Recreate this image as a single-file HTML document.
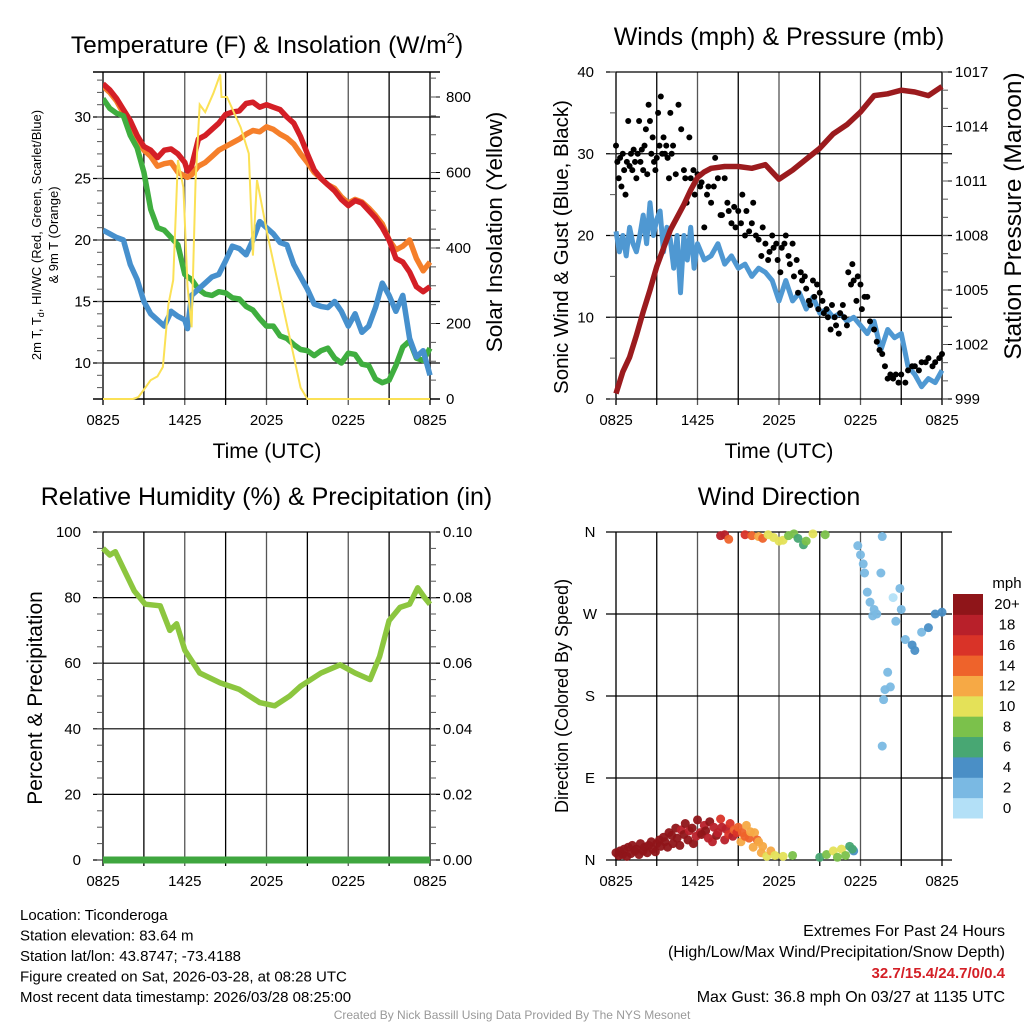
<!DOCTYPE html>
<html><head><meta charset="utf-8">
<style>
html,body{margin:0;padding:0;background:#fff;}
body{width:1024px;height:1024px;overflow:hidden;font-family:"Liberation Sans",sans-serif;}
svg text{font-family:"Liberation Sans",sans-serif;}
</style></head>
<body>
<svg id="chart" width="1024" height="1024" viewBox="0 0 1024 1024" xmlns="http://www.w3.org/2000/svg">
</svg>
<script>
// ---------- data ----------
const tickLabels = ["0825","1425","2025","0225","0825"];
const tempHours = [0,0.5,1,1.5,2,2.5,3,3.5,4,4.5,5,5.5,6,6.2,6.5,7,7.5,8,8.5,9,9.5,10,10.5,11,11.5,12,12.5,13,13.5,14,14.5,15,15.5,16,16.5,17,17.5,18,18.5,19,19.5,20,20.5,21,21.5,22,22.5,23,23.5,24];
const tempRed = [32.7,32.2,31.5,30.6,29.7,28.5,27.6,27.3,26.7,27.3,27.4,27,26.3,25.6,26,28.2,28.5,29,29.5,30.2,30.4,30.5,31.1,31.2,30.8,31,30.8,30.6,30,29.5,28.4,27,25.7,25,24.5,24,23.3,22.8,23.2,23,22.4,21.8,21,20,18.5,18.2,17.4,16.2,15.8,16.2];
const temp9mOrange = [32.5,32,31.3,30.3,29.4,28.2,27.3,26.8,26,26.2,26.3,25.5,25.2,25.1,25.3,26,26.3,26.8,27.3,27.6,27.9,28.2,28.6,28.9,28.8,29.2,29,28.6,28.3,27.8,27,26.3,25.5,25,24.5,24.2,23.5,23,23.3,23.1,22.6,22,21.3,20,19.2,19.5,20,18.5,17.5,18.2];
const dewGreen = [31.5,30.7,30.3,30.1,28.5,27.5,25.5,22.5,21,20.8,20.2,19.6,17.2,17,16.8,16,15.6,15.5,15.8,15.7,15.3,15.2,14.6,14.3,13.6,13,13,12.2,12,11.5,11.1,11,10.6,11,11.2,10.4,10,10.8,10.7,9.9,9.8,8.7,8.4,8.6,9.8,11.3,11.8,10.4,10.2,11.2];
const chillBlue = [20.8,20.5,20.2,20,18,16.8,15,14,13.5,13,14.2,13.8,13.5,12.8,15.5,16,16.5,17,17.2,18.3,19.5,19.3,18.8,20,21.5,21,20.5,19.8,19.6,18,17,16,14.8,14.6,14.5,15,14.2,13,14,12.5,13,14.5,16.5,15.5,14.2,15.5,12,10.5,11,9];
const solarHours = [0,2.2,2.6,3,3.5,4,4.4,4.8,5.15,5.5,5.9,6.2,6.5,6.8,7.1,7.5,8.1,8.6,8.7,9.1,9.6,10.1,10.7,11,11.3,12.1,13.3,14.5,15,24];
const solarValues = [0,0,5,25,50,60,85,250,315,633,560,300,190,580,780,760,810,860,800,800,760,720,650,380,580,430,230,30,0,0];
const windHours = [0,0.25,0.5,0.75,1,1.25,1.5,1.75,2,2.25,2.5,2.75,3,3.25,3.5,3.75,4,4.25,4.5,4.75,5,5.25,5.5,5.75,6,6.5,7,7.5,8,8.5,9,9.5,10,10.5,11,11.5,12,12.5,13,13.5,14,14.5,15,15.5,16,16.5,17,17.5,18,18.5,19,19.5,20,20.5,21,21.5,22,22.5,23,23.5,24];
const windSonic = [20.5,18,20,17.5,21,19,18,20,22.5,19,24,20,22,23,18,21,19.5,16,20,13,20,17,21,16,19,17,17.5,19,16.5,17.5,16,16.5,15,16,15.5,14.5,12,14.5,12,13,11,12.5,10.5,11,10,10.5,9.5,10,9,8,9.5,6,8.5,7.5,8,4,3,1.5,2.5,2,3.5,4,3.8];
const pressHours = [0,0.5,1,1.5,2,2.5,3,3.5,4,4.5,5,5.5,6,6.5,7,8,9,10,11,12,13,14,15,16,17,18,19,20,21,22,23,24];
const pressure = [999.3,1000.5,1001.3,1002.5,1003.8,1005,1006.3,1007.3,1008.3,1009,1009.7,1010.5,1011.2,1011.5,1011.7,1011.8,1011.8,1011.7,1011.9,1011.1,1011.6,1012.2,1012.8,1013.6,1014.1,1014.8,1015.7,1015.8,1016,1015.9,1015.7,1016.2];
const gustHours = [0,0.1,0.2,0.3,0.4,0.5,0.6,0.7,0.8,0.9,1.0,1.1,1.2,1.3,1.4,1.5,1.6,1.7,1.8,1.9,2.0,2.1,2.2,2.3,2.4,2.5,2.6,2.7,2.8,2.9,3.0,3.1,3.2,3.3,3.4,3.5,3.6,3.7,3.8,3.9,4.0,4.1,4.2,4.4,4.6,4.8,5.0,5.1,5.2,5.4,5.5,5.7,5.8,6.0,6.2,6.3,6.5,6.7,6.8,7.0,7.2,7.3,7.5,7.7,7.8,8.0,8.2,8.3,8.5,8.7,8.8,9.0,9.2,9.3,9.5,9.6,9.8,10.0,10.1,10.3,10.5,10.7,10.8,11.0,11.2,11.3,11.5,11.6,11.8,11.9,12.1,12.2,12.4,12.5,12.7,12.8,13.0,13.1,13.3,13.4,13.6,13.7,13.9,14.0,14.2,14.3,14.5,14.6,14.8,14.9,15.0,15.2,15.3,15.5,15.6,15.8,15.9,16.1,16.2,16.4,16.5,16.7,16.8,17.0,17.1,17.3,17.4,17.5,17.7,17.8,18.0,18.1,18.3,18.5,18.7,19.0,19.2,19.4,19.6,19.8,20.0,20.2,20.4,20.6,20.8,21.0,21.3,21.5,21.8,22,22.3,22.5,22.8,23,23.3,23.5,23.8,24];
const gustValues = [31,29,27,29.5,26,30,28,25,29,34,28.5,30,28,30.5,29,27,30,34,29,30.5,28,31,33,27.5,36,34,30,32,29,28,29.5,35,31,37,30,32,30,31,29.5,27,35,30,31,27.5,36,33,28,27,24,32,27,28,25,27.5,26,26.5,21,25,26,24,26,29.5,27,22.5,22.5,27,24,23,21.5,23.5,21,23,21.5,25,20,23,20.5,21.5,24,20,19.5,17.5,21,19,17,18,20,18.5,19,17,15.5,18.5,19,20,17.5,16.5,19,15,17,13,15.5,14.5,15,13.5,12,11.5,14.5,12.5,14,11,13,12,10.5,11,10,8.5,11.5,10,9,8,10.5,11.5,10,9,15.5,14,16.5,14.5,12,15,14,11,12.5,12.5,9.5,8.5,7,6,5.5,4,2.5,3,2.5,3,2,3,2,3.5,4,4,3.5,4.5,4.5,5,4,4.5,5,5.5];
const rhHours = [0,0.5,0.9,1.6,2.3,3.1,4.2,4.9,5.4,5.7,6,7.1,8.6,10,11.5,12.6,13.7,14.5,16,17.4,18.5,19.6,20.3,21,21.8,22.5,23.1,23.6,24];
const rhValues = [95,93,94,88,82,78,77.5,70,72,68,64,57,54,52,48,47,50,53,57,59.5,57,55,62,73,77,78,83,80,78];
const precipValues = [0,0];
const precipHours = [0,24];
const dirHours = [0,0.2,0.3,0.5,0.6,0.8,0.9,1.1,1.2,1.4,1.5,1.7,1.8,2.0,2.1,2.3,2.4,2.6,2.7,2.9,3.0,3.2,3.3,3.5,3.6,3.8,3.9,4.1,4.2,4.4,4.5,4.7,4.8,5.0,5.1,5.3,5.4,5.6,5.7,5.9,6.0,6.2,6.3,6.5,6.6,6.8,6.9,7.1,7.2,7.4,7.5,7.7,7.8,8.0,8.1,8.3,8.4,8.6,8.7,8.9,9.0,9.2,9.3,9.5,9.6,9.8,9.9,10.1,10.2,10.4,10.5,10.7,10.8,11.1,11.4,11.7,12.3,13.0,15.0,15.5,16.0,16.3,16.6,16.9,17.2,17.5,17.4,7.7,8.0,8.3,9.5,10.0,10.5,10.8,11.2,11.6,12.0,12.3,12.7,13.1,13.4,13.8,14.0,14.5,15.4,17.8,18.0,18.2,18.3,18.5,18.7,19.0,18.9,19.2,19.6,19.5,19.7,19.8,20.0,20.2,19.6,20.4,20.6,21.0,20.9,21.3,21.8,22.0,22.5,23.0,23.5,24];
const dirDegrees = [8,5,10,6,12,4,14,7,16,10,12,6,18,10,14,8,16,20,12,9,18,22,15,25,20,14,30,27,18,35,24,16,33,28,40,22,32,35,18,26,44,30,28,38,32,24,42,20,36,27,30,45,36,22,34,28,40,26,33,30,36,20,30,26,38,24,31,14,30,22,20,8,15,4,10,5,4,5,3,6,10,3,12,5,15,10,12,356,357,352,357,356,355,353,357,354,350,351,356,358,353,346,350,358,357,345,335,325,315,294,283,275,268,270,355,315,176,187,206,190,125,288,262,275,298,242,236,230,250,255,270,272];
const dirSpeeds = [20,21,20,21,20,20,21,20,22,20,21,20,20,21,20,20,21,20,22,20,21,20,20,21,19,20,20,21,20,19,20,19,18,19,20,20,18,20,19,18,20,18,19,17,20,18,19,18,17,19,18,16,18,17,18,16,15,17,14,15,13,12,14,13,12,14,12,11,12,14,12,11,12,10,12,9,10,8,6,8,9,7,10,8,6,4,5,18,17,14,16,14,12,13,10,10,9,10,8,7,6,6,8,10,8,2,2,2,2,2,2,2,2,2,2,1,2,2,1,1,1,0,2,2,2,2,3,4,2,3,3,4];
const colorbarLabels = ["0","2","4","6","8","10","12","14","16","18","20+"];
const colorbarColors = ["#b3e0f7","#7ab9e3","#4a8fc6","#48a773","#7bc14b","#e4e158","#f6a945","#ee632b","#d93328","#b8202a","#8f1519"];

// ---------- helpers ----------
const NS="http://www.w3.org/2000/svg";
const svg=document.getElementById('chart');
function mk(tag,attrs,parent,txt){const e=document.createElementNS(NS,tag);for(const k in attrs)e.setAttribute(k,attrs[k]);if(txt!==undefined)e.textContent=txt;(parent||svg).appendChild(e);return e;}
function scale(d0,d1,r0,r1){return v=>r0+(v-d0)/(d1-d0)*(r1-r0);}
function line(xs,ys,sx,sy){return xs.map((x,i)=>(i?'L':'M')+sx(x).toFixed(1)+','+sy(ys[i]).toFixed(1)).join('');}

function panel(name,L,R,T,B,title,titleY){
  const g=mk('g',{},svg);
  
  
  const sx=scale(0,24,L,R);
  for(let i=0;i<=8;i++){const x=sx(i*3);const gl=mk('line',{x1:x,x2:x,y1:T,y2:B+6,stroke:i%2?'#000':'#555','stroke-width':i==0||i==8?2:1.3},g);}
  tickLabels.forEach((t,i)=>{const tl=mk('text',{x:sx(i*6),y:B+26,'font-size':15,'text-anchor':'middle'},g,t);});
  const tt=mk('text',{x:(L+R)/2,y:titleY,'font-size':25,'text-anchor':'middle'},g,title);
  
  
  return {g,sx};
}
function hgrid(g,L,R,y,label,side){
  const hl=mk('line',{x1:L-(side==='r'?0:10),x2:R+(side==='l'?0:10),y1:y,y2:y,stroke:'#000','stroke-width':1.2},g);
  
  
}
function ytext(g,x,y,t,anchor,nm){const e=mk('text',{x:x,y:y+5,'font-size':15,'text-anchor':anchor},g,t);return e;}
function ytitle(g,x,y,t,size,nm){const e=mk('text',{x:0,y:0,'font-size':size,'text-anchor':'middle',transform:`translate(${x},${y}) rotate(-90)`},g,t);return e;}

// ---------- Panel 1: Temperature ----------
(function(){
  const L=103,R=430,T=72,B=399;
  const p=panel('temperature-panel',L,R,T,B,'',0);
  const g=p.g,sx=p.sx;
  const t=mk('text',{x:267,y:53,'font-size':24.5,'text-anchor':'middle'},g);
  
  
  t.innerHTML='Temperature (F) &amp; Insolation (W/m<tspan font-size="15" dy="-10">2</tspan><tspan dy="10">)</tspan>';
  const sy=scale(10,30,363,117);
  const sr=scale(0,800,399,97);
  mk('line',{x1:L-10,x2:R+10,y1:T,y2:T,stroke:'#000','stroke-width':1.5},g);
  mk('line',{x1:L-10,x2:R+10,y1:B,y2:B,stroke:'#000','stroke-width':1.5},g);
  [10,15,20,25,30].forEach(v=>{hgrid(g,L,R,sy(v));ytext(g,L-12,sy(v),String(v),'end','left-y-tick-label');});
  [0,200,400,600,800].forEach(v=>{mk('line',{x1:R,x2:R+10,y1:sr(v),y2:sr(v),stroke:'#000'},g);ytext(g,R+16,sr(v),String(v),'start','right-y-tick-label');});
  for(let v=50;v<=850;v+=50){mk('line',{x1:R,x2:R+6,y1:sr(v),y2:sr(v),stroke:'#555'},g);}
  for(let v=8;v<=33;v++){mk('line',{x1:L-6,x2:L,y1:sy(v),y2:sy(v),stroke:'#555'},g);}
  const clip=mk('clipPath',{id:'c1'},g);mk('rect',{x:L,y:T-4,width:R-L+4,height:B-T+6},clip);
  const series=[[temp9mOrange,'#f57f2a','orange-9m-temp-line'],[tempRed,'#d41f26','red-2m-temp-line'],[dewGreen,'#3fae3f','green-dewpoint-line'],[chillBlue,'#4690cd','blue-windchill-line']];
  series.forEach(s=>{const pl=mk('path',{d:line(tempHours,s[0],sx,sy),fill:'none',stroke:s[1],'stroke-width':5.5,'stroke-linejoin':'round','clip-path':'url(#c1)'},g);});
  const sol=mk('path',{d:line(solarHours,solarValues,sx,sr),fill:'none',stroke:'#fbe156','stroke-width':2,'clip-path':'url(#c1)'},g);
  
  
  const yt=mk('text',{x:0,y:0,'font-size':13,'text-anchor':'middle',transform:'translate(41,235) rotate(-90)'},g);
  
  
  yt.innerHTML='2m T, T<tspan font-size="9" dy="3">d</tspan><tspan dy="-3">, HI/WC (Red, Green, Scarlet/Blue)</tspan>';
  ytitle(g,58,235,'& 9m T (Orange)',13,'left-y-axis-title-2');
  ytitle(g,502,232,'Solar Insolation (Yellow)',22.5,'right-y-axis-title');
  const xt=mk('text',{x:267,y:458,'font-size':21,'text-anchor':'middle'},g,'Time (UTC)');
  
})();

// ---------- Panel 2: Winds ----------
(function(){
  const L=616,R=942,T=72,B=399;
  const p=panel('winds-panel',L,R,T,B,'Winds (mph) & Pressure (mb)',45);
  const g=p.g,sx=p.sx;
  const sy=scale(0,40,B,T);const sp=scale(999,1017,B,T);
  [0,10,20,30,40].forEach(v=>{hgrid(g,L,R,sy(v));ytext(g,L-22,sy(v),String(v),'end','left-y-tick-label');});
  [999,1002,1005,1008,1011,1014,1017].forEach(v=>{mk('line',{x1:R,x2:R+10,y1:sp(v),y2:sp(v),stroke:'#000'},g);ytext(g,R+13,sp(v),String(v),'start','right-y-tick-label');});
  for(let v=999;v<=1017;v++){mk('line',{x1:R,x2:R+6,y1:sp(v),y2:sp(v),stroke:'#555'},g);}
  for(let v=0;v<=40;v+=5){mk('line',{x1:L-6,x2:L,y1:sy(v),y2:sy(v),stroke:'#555'},g);}
  const w=mk('path',{d:line(windHours,windSonic,sx,sy),fill:'none',stroke:'#4f98d2','stroke-width':5,'stroke-linejoin':'round'},g);
  
  gustHours.forEach((h,i)=>{const c=mk('circle',{cx:sx(h),cy:sy(gustValues[i]),r:3,fill:'#000'},g);});
  const pr=mk('path',{d:line(pressHours,pressure,sx,sp),fill:'none',stroke:'#9b1b1e','stroke-width':5.5,'stroke-linejoin':'round'},g);
  
  ytitle(g,568,247,'Sonic Wind & Gust (Blue, Black)',20.5,'left-y-axis-title');
  ytitle(g,1021,216,'Station Pressure (Maroon)',24.5,'right-y-axis-title');
  const xt=mk('text',{x:779,y:458,'font-size':21,'text-anchor':'middle'},g,'Time (UTC)');
  
})();

// ---------- Panel 3: RH ----------
(function(){
  const L=103,R=430,T=532,B=860;
  const p=panel('humidity-panel',L,R,T,B,'Relative Humidity (%) & Precipitation (in)',505);
  const g=p.g,sx=p.sx;
  const sy=scale(0,100,B,T);const sr=scale(0,0.1,B,T);
  [0,20,40,60,80,100].forEach(v=>{hgrid(g,L,R,sy(v));ytext(g,L-22,sy(v),String(v),'end','left-y-tick-label');});
  [0,0.02,0.04,0.06,0.08,0.10].forEach(v=>{mk('line',{x1:R,x2:R+10,y1:sr(v),y2:sr(v),stroke:'#000'},g);ytext(g,R+13,sr(v),v.toFixed(2),'start','right-y-tick-label');});
  for(let v=0;v<=100;v+=5){mk('line',{x1:R,x2:R+6,y1:sy(v),y2:sy(v),stroke:'#555'},g);mk('line',{x1:L-6,x2:L,y1:sy(v),y2:sy(v),stroke:'#555'},g);}
  const rh=mk('path',{d:line(rhHours,rhValues,sx,sy),fill:'none',stroke:'#8cc63f','stroke-width':5.5,'stroke-linejoin':'round'},g);
  
  const pc=mk('path',{d:line(precipHours,precipValues,sx,sr),fill:'none',stroke:'#3fa63f','stroke-width':7},g);
  
  ytitle(g,42,698,'Percent & Precipitation',21,'left-y-axis-title');
})();

// ---------- Panel 4: Wind direction ----------
(function(){
  const L=616,R=942,T=532,B=860;
  const p=panel('wind-direction-panel',L,R,T,B,'Wind Direction',505);
  const g=p.g,sx=p.sx;
  const sy=scale(0,360,B,T);
  [['N',0],['E',90],['S',180],['W',270],['N',360]].forEach(d=>{hgrid(g,L,R,sy(d[1]));ytext(g,L-26,sy(d[1]),d[0],'middle','direction-tick-label');});
  function col(s){let i=Math.floor((s+1)/2);if(i>10)i=10;if(i<0)i=0;return colorbarColors[i];}
  dirHours.forEach((h,i)=>{const c=mk('circle',{cx:sx(h),cy:sy(dirDegrees[i]),r:4.5,fill:col(dirSpeeds[i]),'fill-opacity':0.95},g);});
  ytitle(g,568,696,'Direction (Colored By Speed)',18,'y-axis-title');
  const cb=mk('g',{},g);
  const top=594,bot=818,h=(bot-top)/11;
  colorbarColors.forEach((c,i)=>{mk('rect',{x:953,y:bot-(i+1)*h,width:30,height:h+0.5,fill:c},cb);const tl=mk('text',{x:1007,y:bot-(i+0.5)*h+5,'font-size':15,'text-anchor':'middle'},cb,colorbarLabels[i]);});
  const u=mk('text',{x:1007,y:588,'font-size':15,'text-anchor':'middle'},cb,'mph');
})();

// ---------- footer text ----------
const leftLines=["Location: Ticonderoga","Station elevation: 83.64 m","Station lat/lon: 43.8747; -73.4188","Figure created on Sat, 2026-03-28, at 08:28 UTC","Most recent data timestamp: 2026/03/28 08:25:00"];
leftLines.forEach((t,i)=>{const e=mk('text',{x:20,y:920+i*20.5,'font-size':15},svg,t);});
const rightLines=[["Extremes For Past 24 Hours",'#000','normal',936],["(High/Low/Max Wind/Precipitation/Snow Depth)",'#000','normal',957],["32.7/15.4/24.7/0/0.4",'#d41f26','bold',978],["Max Gust: 36.8 mph On 03/27 at 1135 UTC",'#000','normal',1002]];
rightLines.forEach(r=>{const e=mk('text',{x:1005,y:r[3],'font-size':r[2]==='bold'?15:16,'text-anchor':'end',fill:r[1],'font-weight':r[2]},svg,r[0]);});
const cr=mk('text',{x:512,y:1019,'font-size':12,'text-anchor':'middle',fill:'#999'},svg,'Created By Nick Bassill Using Data Provided By The NYS Mesonet');

</script>
</body></html>
